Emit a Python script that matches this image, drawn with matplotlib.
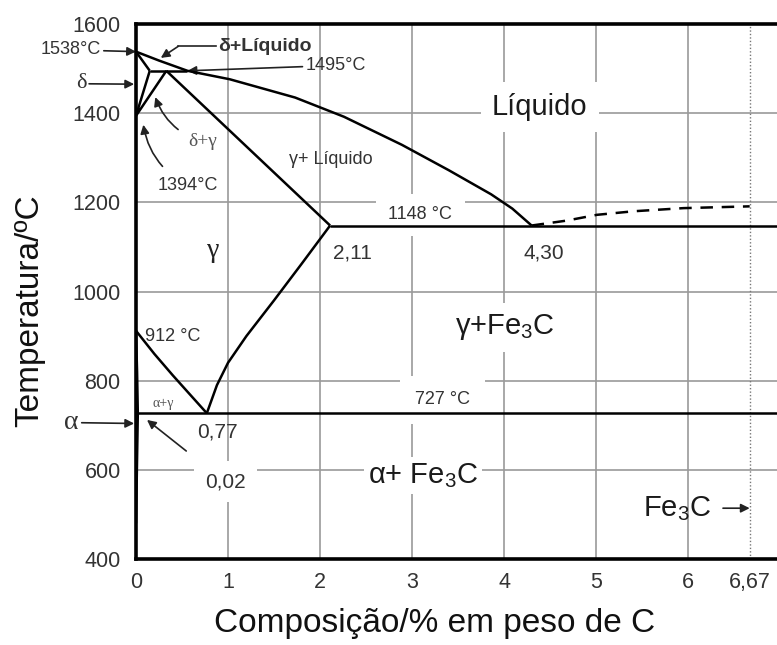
import matplotlib
matplotlib.use("Agg")
import matplotlib.pyplot as plt
import numpy as np

plt.rcParams["font.family"] = ["Liberation Sans", "DejaVu Sans"]
plt.rcParams["mathtext.fontset"] = "custom"
plt.rcParams["mathtext.rm"] = "Liberation Sans"
plt.rcParams["mathtext.default"] = "regular"

# Fe-Fe3C phase boundaries (wt% C, degrees C)
liquidus_x = [0.0, 0.25, 0.56, 1.02, 1.73, 2.26, 2.89, 3.40, 3.86, 4.09, 4.30]
liquidus_t = [1538, 1518, 1495, 1476, 1435, 1392, 1329, 1272, 1218, 1186, 1148]

delta_solidus_x = [0.0, 0.15]
delta_solidus_t = [1538, 1495]

peritectic_x = [0.15, 0.56]
peritectic_t = [1495, 1495]

delta_gamma_x = [0.15, 0.0, 0.33]
delta_gamma_t = [1495, 1394, 1495]

gamma_solidus_x = [0.33, 2.11]
gamma_solidus_t = [1495, 1148]

a3_x = [0.0, 0.2, 0.4, 0.6, 0.77]
a3_t = [912, 860, 812, 766, 727]

acm_x = [0.77, 0.88, 1.0, 1.2, 1.5, 1.8, 2.11]
acm_t = [727, 790, 840, 900, 980, 1062, 1148]

alpha_x = [0.0, 0.012, 0.02, 0.01, 0.0]
alpha_t = [912, 820, 727, 600, 480]

graphite_x = [4.30, 4.68, 5.01, 5.41, 5.95, 6.67]
graphite_t = [1148, 1159, 1172, 1180, 1187, 1191]

eutectic_c, eutectic_t = 4.30, 1148
gamma_max_c = 2.11
eutectoid_c, eutectoid_t = 0.77, 727
alpha_max_c = 0.02
cementite_c = 6.67

x_ticks = [0, 1, 2, 3, 4, 5, 6, 6.67]
x_tick_labels = ["0", "1", "2", "3", "4", "5", "6", "6,67"]
y_ticks = [400, 600, 800, 1000, 1200, 1400, 1600]

X_MAX = 6.967
SERIF = ["Liberation Serif", "DejaVu Serif"]

fig = plt.figure(figsize=(7.77, 6.45), dpi=100)
ax = fig.add_axes([0.175, 0.1333, 0.825, 0.8295])
ax.set_xlim(0, X_MAX)
ax.set_ylim(400, 1600)

# grid drawn by hand: only interior lines
for gx in x_ticks[1:-1]:
    ax.axvline(gx, color="#9a9a9a", lw=1.2, zorder=0.5)
for gy in y_ticks[1:-1]:
    ax.axhline(gy, color="#9a9a9a", lw=1.2, zorder=0.5)
ax.axvline(cementite_c, color="#777777", lw=1.0, ls=(0, (1, 1.5)), zorder=0.6)

line_kw = dict(color="black", lw=1.8, zorder=3, solid_capstyle="butt")
ax.plot(liquidus_x, liquidus_t, **line_kw)
ax.plot(delta_solidus_x, delta_solidus_t, **line_kw)
ax.plot(peritectic_x, peritectic_t, **line_kw)
ax.plot(delta_gamma_x, delta_gamma_t, **line_kw)
ax.plot(gamma_solidus_x, gamma_solidus_t, **line_kw)
ax.plot(a3_x, a3_t, **line_kw)
ax.plot(acm_x, acm_t, **line_kw)
ax.plot(alpha_x, alpha_t, **line_kw)
ax.plot([gamma_max_c, X_MAX], [eutectic_t, eutectic_t], **line_kw)
ax.plot([alpha_max_c, X_MAX], [eutectoid_t, eutectoid_t], **line_kw)
ax.plot(graphite_x, graphite_t, color="black", lw=1.8, ls=(0, (5, 3.5)), zorder=3)

for side in ["left", "bottom", "top"]:
    ax.spines[side].set_linewidth(2.6)
    ax.spines[side].set_zorder(4)
ax.spines["right"].set_visible(False)

ax.set_xticks(x_ticks)
ax.set_xticklabels(x_tick_labels)
ax.set_yticks(y_ticks)
ax.tick_params(length=0, labelsize=15.5, labelcolor="#333333")
ax.tick_params(axis="y", pad=11)
ax.tick_params(axis="x", pad=9)

ax.set_xlabel("Composição/% em peso de C", fontsize=24, color="#111111")
ax.set_ylabel("Temperatura/ºC", fontsize=24, color="#111111")
ax.xaxis.set_label_coords(0.466, -0.092)
ax.yaxis.set_label_coords(-0.142, 0.465)

small = dict(fontsize=13, color="#333333", zorder=2)
num = dict(fontsize=15, color="#333333", zorder=2)
big = dict(fontsize=21, color="#1a1a1a", zorder=2, ha="center", va="center")


def blank(pad):
    return dict(facecolor="white", edgecolor="none", pad=pad)


# phase field names
ax.text(4.39, 1414, "Líquido", bbox=blank(8), **big)
ax.text(4.01, 920, "γ+Fe$_3$C", bbox=blank(7), **big)
ax.text(3.12, 588, "α+ Fe$_3$C", bbox=blank(3), **big)
ax.text(5.88, 512, "Fe$_3$C", **big)
ax.text(2.12, 1296, "γ+ Líquido", ha="center", va="center", fontsize=13, color="#333333", zorder=2)
ax.text(0.84, 1093, "γ", ha="center", va="center", fontsize=20, color="#222222", family=SERIF, zorder=2)
ax.text(0.30, 749, "α+γ", ha="center", va="center", fontsize=10, color="#555555", family=SERIF, zorder=2)

# invariant points
ax.text(3.09, 1172, "1148 °C", ha="center", va="center", bbox=blank(9), **small)
ax.text(3.33, 757, "727 °C", ha="center", va="center", bbox=blank(11), **small)
ax.text(0.40, 898, "912 °C", ha="center", va="center", **small)
ax.text(2.35, 1086, "2,11", ha="center", va="center", **num)
ax.text(4.43, 1086, "4,30", ha="center", va="center", **num)
ax.text(0.89, 684, "0,77", ha="center", va="center", **num)

arrow = dict(arrowstyle="-|>", color="#222222", lw=1.2, mutation_scale=13, shrinkA=0, shrinkB=0)

# labels outside the left spine
ax.annotate("1538°C", xy=(0, 1538), xytext=(-0.38, 1542), ha="right", va="center",
            arrowprops=arrow, annotation_clip=False, **small)
ax.annotate("δ", xy=(-0.02, 1465), xytext=(-0.54, 1466), ha="right", va="center",
            arrowprops=arrow, annotation_clip=False, fontsize=16, color="#333333", family=SERIF)
ax.annotate("α", xy=(-0.02, 704), xytext=(-0.62, 706), ha="right", va="center",
            arrowprops=arrow, annotation_clip=False, fontsize=20, color="#333333", family=SERIF)

# labels with leader lines inside the plot
ax.plot([0.87, 0.46], [1550, 1550], color="#222222", lw=1.2, zorder=3)
ax.annotate("", xy=(0.27, 1524), xytext=(0.46, 1550), arrowprops=arrow, zorder=3)
ax.text(0.89, 1550, "δ+Líquido", ha="left", va="center", fontsize=14, color="#333333",
        fontweight="bold", zorder=2)
ax.annotate("1495°C", xy=(0.56, 1495), xytext=(1.84, 1507), ha="left", va="center",
            arrowprops=arrow, **small)
ax.annotate("δ+γ", xy=(0.21, 1436), xytext=(0.72, 1336), ha="center", va="center",
            arrowprops=dict(arrow, connectionstyle="arc3,rad=-0.25", shrinkA=6),
            fontsize=14, color="#555555", family=SERIF, zorder=2)
ax.annotate("1394°C", xy=(0.08, 1374), xytext=(0.56, 1238), ha="center", va="center",
            arrowprops=dict(arrow, connectionstyle="arc3,rad=-0.25", shrinkA=8), **small)
ax.annotate("0,02", xy=(0.12, 712), xytext=(0.97, 573), ha="center", va="center",
            arrowprops=dict(arrow, shrinkA=12), bbox=blank(8), **num)
ax.annotate("", xy=(cementite_c, 514), xytext=(6.38, 514), arrowprops=arrow)

fig.savefig("out.png", dpi=100)
